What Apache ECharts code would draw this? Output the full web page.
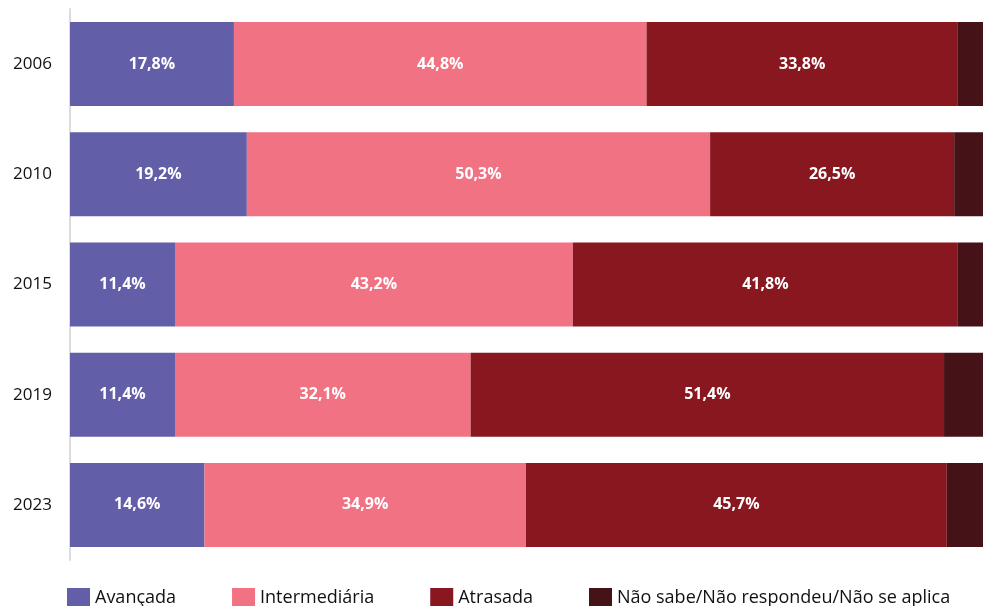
<!DOCTYPE html>
<html>
<head>
<meta charset="utf-8">
<script src="https://cdn.jsdelivr.net/npm/echarts@6/dist/echarts.min.js"></script>
<style>
html,body{margin:0;padding:0;background:#fff;}
#chart{width:983px;height:606px;}
</style>
</head>
<body>
<div id="chart"></div>
<script>
const categories = ['2006', '2010', '2015', '2019', '2023'];
const avancada = [17.8, 19.2, 11.4, 11.4, 14.6];
const intermediaria = [44.8, 50.3, 43.2, 32.1, 34.9];
const atrasada = [33.8, 26.5, 41.8, 51.4, 45.7];
const naoSabe = [3.6, 4.0, 3.6, 5.1, 4.8];
const seriesNames = ['Avançada', 'Intermediária', 'Atrasada', 'Não sabe/Não respondeu/Não se aplica'];
const colors = ['#635ea8', '#f07283', '#881720', '#451218'];

const fontFam = '"Open Sans", "Noto Sans", sans-serif';
const chart = echarts.init(document.getElementById('chart'));
const labelCfg = {
  show: true,
  position: 'inside',
  color: '#fff',
  fontWeight: 'bold',
  fontSize: 16,
  fontFamily: fontFam,
  formatter: p => p.value.toFixed(1).replace('.', ',') + '%'
};
const dataSets = [avancada, intermediaria, atrasada, naoSabe];
const series = dataSets.map((d, i) => ({
  name: seriesNames[i],
  type: 'bar',
  stack: 'total',
  data: d,
  barWidth: 84,
  itemStyle: { color: colors[i] },
  label: i < 3 ? labelCfg : { show: false },
  emphasis: { disabled: true }
}));

chart.setOption({
  animation: false,
  color: colors,
  grid: { left: 70, right: 0, top: 9, bottom: 46, containLabel: false },
  xAxis: {
    type: 'value', min: 0, max: 99.13, show: false
  },
  yAxis: {
    type: 'category',
    data: categories,
    inverse: true,
    axisLine: { show: true, lineStyle: { color: '#dcdcdc', width: 2 } },
    axisTick: { show: false },
    axisLabel: { color: '#111', fontSize: 17, fontFamily: fontFam, margin: 18 }
  },
  legend: {
    left: 62,
    top: 583,
    itemWidth: 23,
    itemHeight: 20,
    itemGap: 56,
    icon: 'rect',
    textStyle: { fontSize: 18, color: '#111', fontFamily: fontFam },
    data: seriesNames
  },
  series: series
});
</script>
</body>
</html>
